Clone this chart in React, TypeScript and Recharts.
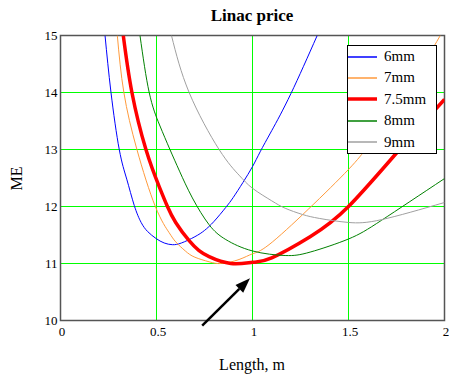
import React from "react";
import {
  LineChart,
  Line,
  XAxis,
  YAxis,
  CartesianGrid,
  ReferenceArea,
  ReferenceLine,
} from "recharts";

// values (length in m, price in ME)
const blueX = [0.232, 0.263, 0.306, 0.345, 0.384, 0.42, 0.454, 0.497, 0.54, 0.583, 0.63, 0.7, 0.75, 0.8, 0.86, 0.9, 0.95, 1.0, 1.04, 1.1, 1.2, 1.337];
const blueY = [15, 14, 13, 12.48, 12.02, 11.72, 11.56, 11.44, 11.36, 11.33, 11.36, 11.47, 11.58, 11.74, 11.98, 12.16, 12.42, 12.7, 12.96, 13.33, 13.98, 15];

const orangeX = [0.296, 0.33, 0.398, 0.494, 0.566, 0.6, 0.65, 0.7, 0.774, 0.84, 0.93, 1.0, 1.086, 1.29, 1.5, 1.6, 1.7, 1.8, 1.9, 1.978];
const orangeY = [15, 14, 13, 12, 11.54, 11.38, 11.22, 11.11, 11.03, 11.0, 11.07, 11.17, 11.33, 11.95, 12.65, 13.05, 13.5, 14, 14.55, 15];

const redX = [0.327, 0.372, 0.445, 0.514, 0.557, 0.6, 0.67, 0.72, 0.774, 0.887, 1.0, 1.1, 1.3, 1.5, 1.766, 2.0];
const redY = [15, 14, 13, 12.35, 12, 11.72, 11.4, 11.23, 11.12, 11.0, 11.02, 11.1, 11.47, 12, 13, 13.88];

const greenX = [0.414, 0.462, 0.516, 0.57, 0.62, 0.687, 0.774, 0.861, 1.0, 1.17, 1.3, 1.5, 1.673, 2.0];
const greenY = [15, 14, 13.43, 13, 12.62, 12.15, 11.68, 11.42, 11.22, 11.14, 11.2, 11.43, 11.76, 12.49];

const grayX = [0.578, 0.67, 0.826, 0.93, 1.0, 1.1, 1.17, 1.26, 1.35, 1.5, 1.673, 2.0];
const grayY = [15, 14, 13, 12.55, 12.32, 12.1, 11.97, 11.86, 11.79, 11.72, 11.77, 12.07];

const xTicks = [0, 0.5, 1, 1.5, 2];
const yTicks = [10, 11, 12, 13, 14, 15];

// arrow pointing at the optimum: tail, tip
const arrowPts = [
  { x: 0.738, y: 9.91 },
  { x: 0.987, y: 10.74 },
];

const zip = (xs: number[], ys: number[]) => xs.map((x, i) => ({ x, y: ys[i] }));

const series = [
  { name: "6mm", color: "#0000ff", width: 1, data: zip(blueX, blueY) },
  { name: "7mm", color: "#ff9a3c", width: 1, data: zip(orangeX, orangeY) },
  { name: "7.5mm", color: "#ff0000", width: 3.5, data: zip(redX, redY) },
  { name: "8mm", color: "#008000", width: 1, data: zip(greenX, greenY) },
  { name: "9mm", color: "#a0a0a0", width: 1, data: zip(grayX, grayY) },
];

const font = '"Liberation Serif", "Times New Roman", serif';

function Arrow(props: any) {
  const { x1, y1, x2, y2 } = props;
  const ang = Math.atan2(y2 - y1, x2 - x1);
  const len = 15;
  const half = 5.5;
  const bx = x2 - len * Math.cos(ang);
  const by = y2 - len * Math.sin(ang);
  const px = -Math.sin(ang) * half;
  const py = Math.cos(ang) * half;
  return (
    <g>
      <line x1={x1} y1={y1} x2={bx} y2={by} stroke="#000" strokeWidth={2.5} />
      <polygon points={`${x2},${y2} ${bx + px},${by + py} ${bx - px},${by - py}`} fill="#000" />
    </g>
  );
}

function ChartLegend() {
  return (
    <div
      style={{
        position: "absolute",
        left: 347,
        top: 45,
        width: 88,
        height: 107,
        border: "1px solid #000",
        background: "#fff",
        fontFamily: font,
        fontSize: 15,
      }}
    >
      {series.map((s) => (
        <div key={s.name} style={{ display: "flex", alignItems: "center", height: 21.4 }}>
          <svg width={29} height={6} style={{ display: "block" }}>
            <line x1={0} y1={3} x2={29} y2={3} stroke={s.color} strokeWidth={s.width > 1 ? 3.5 : 1.5} />
          </svg>
          <span style={{ marginLeft: 7, lineHeight: "21.4px" }}>{s.name}</span>
        </div>
      ))}
    </div>
  );
}

export default function App() {
  return (
    <div style={{ position: "absolute", left: 0, top: 0, width: 449, height: 375, background: "#fff", fontFamily: font }}>
      <LineChart width={449} height={375} margin={{ top: 35.5, right: 4.5, bottom: 24.5, left: 0 }}>
        <CartesianGrid stroke="#00ff00" strokeWidth={1} horizontalValues={yTicks} verticalValues={xTicks} />
        <XAxis
          type="number"
          dataKey="x"
          domain={[0, 2]}
          ticks={xTicks}
          allowDataOverflow
          height={30}
          axisLine={false}
          tickLine={false}
          tickSize={0}
          tickMargin={6}
          tick={{ fontSize: 13, fill: "#000", fontFamily: font, dx: 1.5 }}
        />
        <YAxis
          type="number"
          domain={[10, 15]}
          ticks={yTicks}
          allowDataOverflow
          width={60.5}
          axisLine={false}
          tickLine={false}
          tickSize={0}
          tickMargin={3}
          tick={{ fontSize: 13, fill: "#000", fontFamily: font }}
        />
        {series.map((s) => (
          <Line
            key={s.name}
            data={s.data}
            dataKey="y"
            name={s.name}
            type="natural"
            stroke={s.color}
            strokeWidth={s.width}
            dot={false}
            activeDot={false}
            isAnimationActive={false}
          />
        ))}
        <ReferenceArea x1={0} x2={2} y1={10} y2={15} fill="none" stroke="#555" strokeWidth={1.5} ifOverflow="visible" />
        <ReferenceLine segment={arrowPts} ifOverflow="visible" shape={Arrow} />
      </LineChart>
      <ChartLegend />
      <svg width={449} height={375} style={{ position: "absolute", left: 0, top: 0, pointerEvents: "none" }}>
        <text x={252} y={21} textAnchor="middle" fontFamily={font} fontSize={17} fontWeight="bold">
          Linac price
        </text>
        <text x={22} y={178.5} transform="rotate(-90 22 178.5)" textAnchor="middle" fontFamily={font} fontSize={16}>
          ME
        </text>
        <text x={252} y={370} textAnchor="middle" fontFamily={font} fontSize={16}>
          Length, m
        </text>
      </svg>
    </div>
  );
}
